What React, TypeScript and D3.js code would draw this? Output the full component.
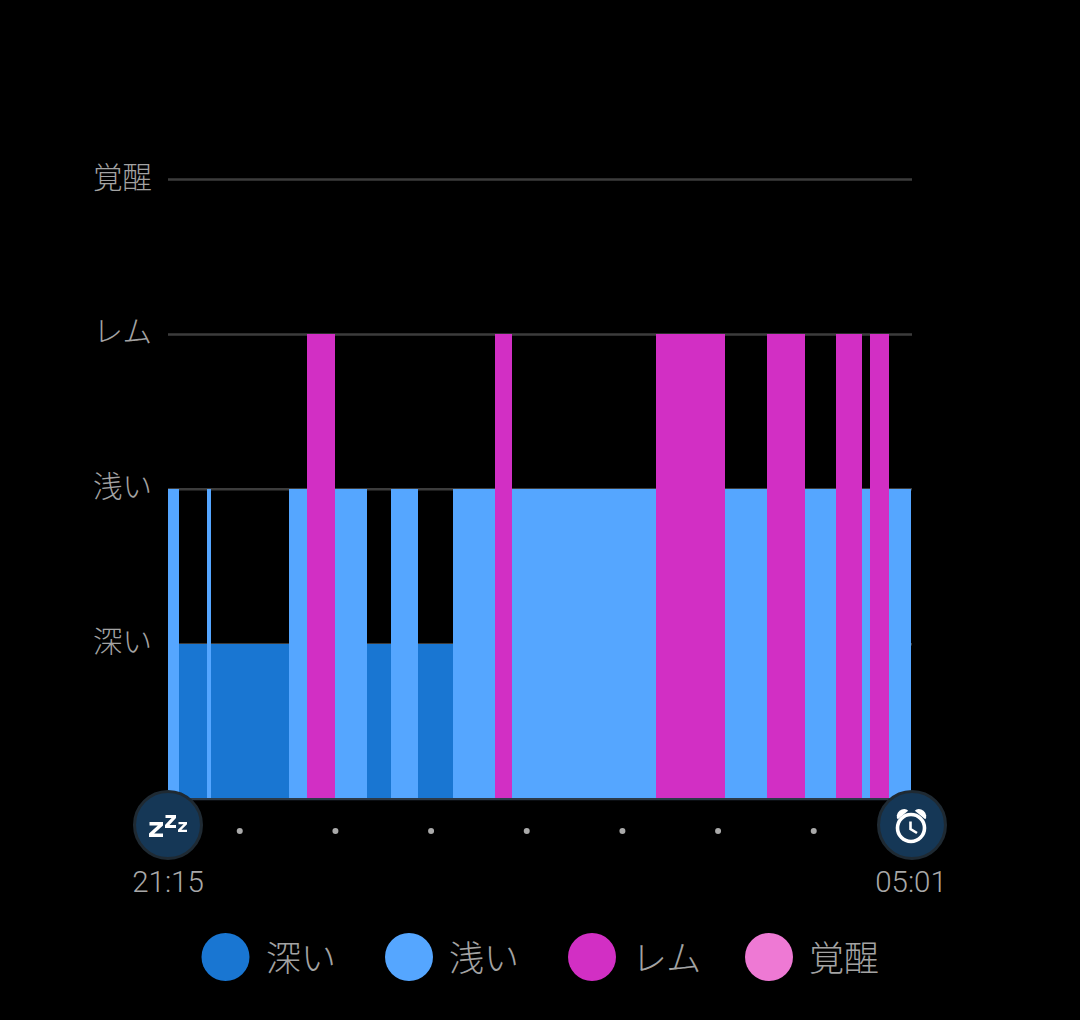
import React from "react";
import * as d3 from "d3";

const stageNames = ["深い", "浅い", "レム", "覚醒"];
const stageColors = ["#1976d2", "#55a6ff", "#d22fc4", "#ee79d4"];
// minutes after 21:15 at which each sleep segment ends
const segmentEnds = [6.9, 24.5, 27, 76.2, 87.2, 104.7, 124.8, 140, 156.8, 179, 205, 215.8, 306, 349.3, 375.9, 399.5, 419, 435.3, 440, 452.3, 466];
const segmentStages = ["浅い", "深い", "浅い", "深い", "浅い", "レム", "浅い", "深い", "浅い", "深い", "浅い", "レム", "浅い", "レム", "浅い", "レム", "浅い", "レム", "浅い", "レム", "浅い"];
const hourTicks = [45, 105, 165, 225, 285, 345, 405];
const startLabel = "21:15";
const endLabel = "05:01";
const totalMinutes = 466;

const W = 1080;
const H = 1020;
const cjk = "'Noto Sans CJK JP', sans-serif";

const x = d3.scaleLinear().domain([0, totalMinutes]).range([168, 911]);
const y = d3.scaleLinear().domain([0, 4]).range([799, 179.5]);
const levelOf = (s: string) => stageNames.indexOf(s) + 1;
const legendX = d3.scaleOrdinal<string, number>().domain(stageNames).range([225.5, 409, 592, 769]);
const legendTextX = d3.scaleOrdinal<string, number>().domain(stageNames).range([266, 449, 632, 809]);

function Zee({ l, t, w, h }: { l: number; t: number; w: number; h: number }) {
  const b = t + h;
  const r = l + w;
  const k = h * 0.23;
  const pts: [number, number][] = [
    [l + 0.5, t],
    [r, t],
    [r, t + k],
    [l + k * 1.5, b - k],
    [r, b - k],
    [r, b],
    [l, b],
    [l, b - k],
    [r - k * 1.5, t + k],
    [l + 0.5, t + k],
  ];
  return <polygon points={pts.map((q) => q.join(",")).join(" ")} fill="#fff" />;
}

export default function App() {
  const bars = segmentEnds.map((end, i) => ({
    start: i === 0 ? 0 : segmentEnds[i - 1],
    end,
    stage: segmentStages[i],
  }));
  const bell = d3.arc()({ innerRadius: 0, outerRadius: 9, startAngle: -Math.PI / 2, endAngle: Math.PI / 2 }) as string;
  return (
    <svg
      width={W}
      height={H}
      viewBox={`0 0 ${W} ${H}`}
      style={{ position: "fixed", left: 0, top: 0, background: "#000", display: "block" }}
    >
      <rect x={0} y={0} width={W} height={H} fill="#000" />
      {stageNames.map((s) => (
        <g key={s}>
          <line x1={168} x2={912} y1={y(levelOf(s))} y2={y(levelOf(s))} stroke="#3c3c3c" strokeWidth={2.5} />
          <text
            x={152}
            y={y(levelOf(s)) - 5}
            textAnchor="end"
            dominantBaseline="central"
            fontFamily={cjk}
            fontSize={29.5}
            fontWeight={300}
            fill="#a3a3a3"
          >
            {s}
          </text>
        </g>
      ))}
      <line x1={168} x2={912} y1={y(0)} y2={y(0)} stroke="#2c3a48" strokeWidth={2.5} />
      {bars.map((b, i) => (
        <rect
          key={i}
          x={x(b.start)}
          width={x(b.end) - x(b.start)}
          y={y(levelOf(b.stage))}
          height={y(0) - 1 - y(levelOf(b.stage))}
          fill={stageColors[stageNames.indexOf(b.stage)]}
          shapeRendering="crispEdges"
        />
      ))}
      {hourTicks.map((t) => (
        <circle key={t} cx={x(t)} cy={831} r={3} fill="#aaaaaa" />
      ))}

      <circle cx={168} cy={825} r={33.5} fill="#153756" stroke="#1f2a33" strokeWidth={3} />
      <Zee l={149} t={822} w={14} h={15} />
      <Zee l={165} t={815} w={11} h={13} />
      <Zee l={178} t={822} w={9} h={10} />

      <circle cx={912} cy={825} r={33.5} fill="#153756" stroke="#1f2a33" strokeWidth={3} />
      <circle cx={911} cy={828} r={13.5} fill="none" stroke="#fff" strokeWidth={3.6} />
      <path d="M910.5 821.5 V829 L917 833" fill="none" stroke="#fff" strokeWidth={2.6} />
      <path d={bell} fill="#fff" transform="translate(903 815) rotate(-40) scale(0.75 0.6)" />
      <path d={bell} fill="#fff" transform="translate(920 815) rotate(40) scale(0.75 0.6)" />

      <text x={168} y={892} textAnchor="middle" fontFamily="Roboto, sans-serif" fontSize={29.5} fontWeight={300} fill="#a8a8a8">
        {startLabel}
      </text>
      <text x={911} y={892} textAnchor="middle" fontFamily="Roboto, sans-serif" fontSize={29.5} fontWeight={300} fill="#a8a8a8">
        {endLabel}
      </text>

      {stageNames.map((s, i) => (
        <g key={s}>
          <circle cx={legendX(s)} cy={957} r={24} fill={stageColors[i]} />
          <text
            x={legendTextX(s)}
            y={955}
            dominantBaseline="central"
            fontFamily={cjk}
            fontSize={35}
            fontWeight={300}
            fill="#a3a3a3"
          >
            {s}
          </text>
        </g>
      ))}
    </svg>
  );
}
